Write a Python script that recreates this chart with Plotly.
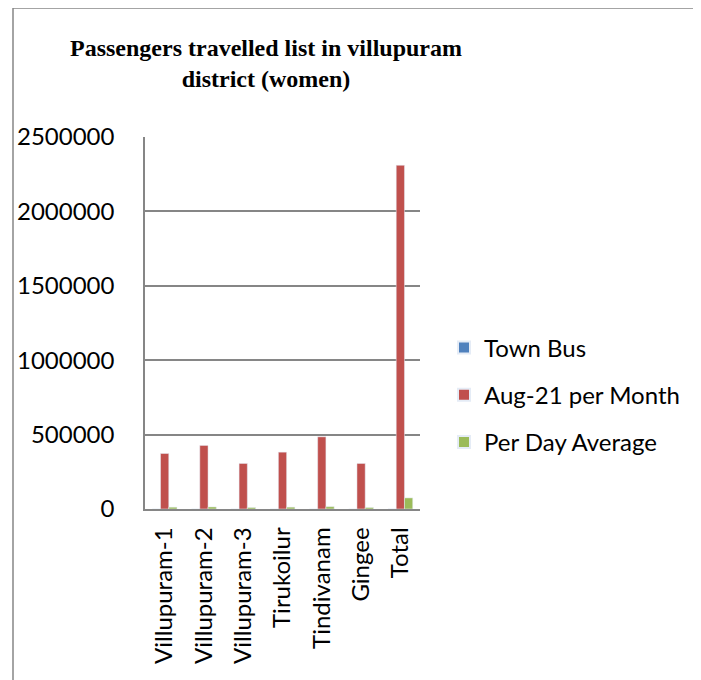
import plotly.graph_objects as go

categories = ["Villupuram-1", "Villupuram-2", "Villupuram-3", "Tirukoilur", "Tindivanam", "Gingee", "Total"]
town_bus = [40, 45, 35, 40, 50, 35, 245]
per_month = [373000, 427000, 306000, 382000, 485000, 306000, 2310000]
per_day = [12000, 13800, 9900, 12300, 15600, 9900, 74500]
y_ticks = [0, 500000, 1000000, 1500000, 2000000, 2500000]

fig = go.Figure()
fig.add_bar(x=categories, y=town_bus, name="Town Bus", marker_color="#4F81BD", legendgroup="a")
fig.add_bar(x=categories, y=per_month, name="Aug-21 per Month", marker_color="#C0504D", legendgroup="b")
fig.add_bar(x=categories, y=per_day, name="Per Day Average", marker_color="#9BBB59", legendgroup="c")

OFF = 8  # page body margin
W, H = 701 - OFF, 680 - OFF
L, R, T, B = 145 - OFF, 281, 137 - OFF, 171
pw = W - L - R
ph = H - T - B

def px_x(x):
    return (x - OFF - L) / pw

def px_y(y):
    return (H - B - (y - OFF)) / ph

fig.update_layout(
    width=W, height=H,
    margin=dict(l=L, r=R, t=T, b=B, autoexpand=False),
    paper_bgcolor="white", plot_bgcolor="white",
    barmode="group", bargap=0.37, bargroupgap=0,
    font=dict(family="Lato", color="black"),
    title=dict(
        text="<b>Passengers travelled list in villupuram<br>district (women)</b>",
        font=dict(family="Liberation Serif", size=24, color="black"),
        x=(266 - OFF) / W, xanchor="center", y=1 - 48 / H, yanchor="middle",
    ),
    legend=dict(
        x=px_x(444), xanchor="left", y=px_y(395), yanchor="middle",
        font=dict(family="Lato", size=24), itemsizing="constant",
        tracegroupgap=13, bgcolor="rgba(0,0,0,0)",
    ),
    showlegend=True,
    xaxis=dict(
        tickangle=-90, tickfont=dict(size=24), showline=True, linecolor="#868686",
        linewidth=1.5, ticks="", ticklabelstandoff=7, showgrid=False,
    ),
    yaxis=dict(
        range=[0, 2500000], tickvals=y_ticks, ticktext=[str(v) for v in y_ticks],
        tickfont=dict(size=24), showline=True, linecolor="#868686", linewidth=1.5,
        gridcolor="#868686", gridwidth=1.5, ticks="", ticklabelstandoff=24,
        zeroline=False,
    ),
    shapes=[dict(
        type="rect", xref="paper", yref="paper",
        x0=px_x(13), x1=px_x(700), y0=px_y(700), y1=px_y(8),
        line=dict(color="#868686", width=1.5), fillcolor="rgba(0,0,0,0)", layer="below",
    )],
)

fig.write_html("out.html")
